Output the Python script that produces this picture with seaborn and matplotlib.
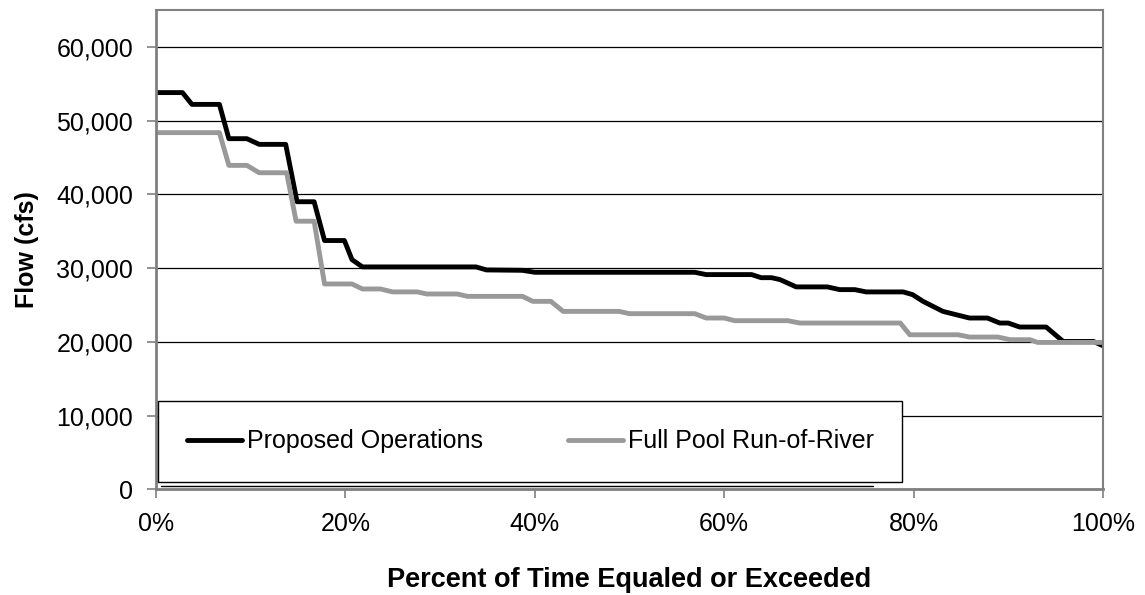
import matplotlib
matplotlib.use("Agg")
import matplotlib.pyplot as plt
from matplotlib.ticker import FuncFormatter, MultipleLocator
import seaborn as sns
import pandas as pd

# ----------------------------------------------------------------------
# Data
# ----------------------------------------------------------------------
proposed_pct = [0, 2.8, 3.8, 6.7, 7.7, 9.6, 10.9, 13.7, 14.9, 16.7, 17.8, 19.9,
                20.7, 21.8, 33.8, 34.9, 38.7, 40, 56.9, 58.1, 62.9, 63.9, 65,
                65.9, 67.6, 70.9, 72.2, 73.8, 75, 78.9, 79.9, 81, 83.1, 85.9,
                87.8, 89.1, 90, 91.2, 94, 95.8, 99, 100]
proposed_flow = [53800, 53800, 52200, 52200, 47550, 47550, 46780, 46780, 39000,
                 39000, 33740, 33740, 31150, 30160, 30160, 29750, 29700, 29430,
                 29430, 29120, 29120, 28700, 28700, 28440, 27450, 27450, 27080,
                 27080, 26770, 26770, 26400, 25490, 24130, 23230, 23230, 22550,
                 22550, 22010, 22010, 20050, 20050, 19470]

fullpool_pct = [0, 6.7, 7.7, 9.6, 10.9, 13.8, 14.8, 16.7, 17.8, 20.7, 21.8, 23.7,
                25, 27.6, 28.6, 31.8, 32.9, 38.7, 39.8, 41.7, 43, 48.9, 50, 56.9,
                58.1, 60, 61.1, 66.7, 68, 78.6, 79.6, 84.7, 85.9, 88.9, 90.2,
                92.3, 93.1, 100]
fullpool_flow = [48370, 48370, 43930, 43930, 42930, 42930, 36360, 36360, 27850,
                 27850, 27170, 27170, 26770, 26770, 26490, 26490, 26170, 26170,
                 25490, 25490, 24130, 24130, 23820, 23820, 23230, 23230, 22870,
                 22870, 22550, 22550, 20960, 20960, 20650, 20650, 20290, 20290,
                 19920, 19920]

series_names = ["Proposed Operations", "Full Pool Run-of-River"]
series_colors = ["#000000", "#999999"]

df = pd.concat([
    pd.DataFrame({"pct": proposed_pct, "flow": proposed_flow, "series": series_names[0]}),
    pd.DataFrame({"pct": fullpool_pct, "flow": fullpool_flow, "series": series_names[1]}),
], ignore_index=True)

# ----------------------------------------------------------------------
# Plot
# ----------------------------------------------------------------------
sns.set_theme(style="white")
plt.rcParams["font.family"] = ["Liberation Sans", "DejaVu Sans"]
plt.rcParams["text.color"] = "black"
plt.rcParams["axes.labelcolor"] = "black"

fig = plt.figure(figsize=(11.45, 5.95), dpi=100)
ax = fig.add_axes([0.1362, 0.1776, 0.9633 - 0.1362, 0.9832 - 0.1776])

sns.lineplot(data=df, x="pct", y="flow", hue="series", hue_order=series_names,
             palette=dict(zip(series_names, series_colors)), sort=False,
             estimator=None, linewidth=3.5, ax=ax)

ax.set_xlim(0, 100)
ax.set_ylim(0, 65000)
ax.xaxis.set_major_locator(MultipleLocator(20))
ax.yaxis.set_major_locator(MultipleLocator(10000))
ax.xaxis.set_major_formatter(FuncFormatter(lambda v, _: f"{v:.0f}%"))
ax.yaxis.set_major_formatter(FuncFormatter(lambda v, _: f"{v:,.0f}"))

# horizontal gridlines only, thin black
ax.yaxis.grid(True, color="black", linewidth=0.9)
ax.xaxis.grid(False)
ax.set_axisbelow(True)

for side in ["left", "bottom"]:
    ax.spines[side].set_color("#808080")
    ax.spines[side].set_linewidth(2)
for side in ["top", "right"]:
    ax.spines[side].set_color("#808080")
    ax.spines[side].set_linewidth(1.5)

ax.tick_params(axis="both", which="major", direction="out", length=6.5,
               width=1.2, color="#808080", labelsize=18, pad=10, labelcolor="black")
ax.tick_params(axis="both", bottom=True, left=True)

ax.set_xlabel("Percent of Time Equaled or Exceeded", fontsize=19.5,
              fontweight="bold", labelpad=22)
ax.set_ylabel("Flow (cfs)", fontsize=18, fontweight="bold", labelpad=12)

leg = ax.legend(loc="lower left", bbox_to_anchor=(0.002, 0.015), ncol=2,
                fontsize=18, frameon=True, fancybox=False, borderpad=1.15,
                columnspacing=3.4, handlelength=2.2, handletextpad=0.2,
                borderaxespad=0)
leg.get_frame().set_edgecolor("black")
leg.get_frame().set_linewidth(1.0)
leg.get_frame().set_alpha(1)
for line in leg.get_lines():
    line.set_linewidth(3.5)

# second thin rule under the legend box, as in the original export
ax.plot([0.005, 0.757], [0.007, 0.007], transform=ax.transAxes,
        color="black", linewidth=1, zorder=5)

fig.savefig("out.png", dpi=100)
